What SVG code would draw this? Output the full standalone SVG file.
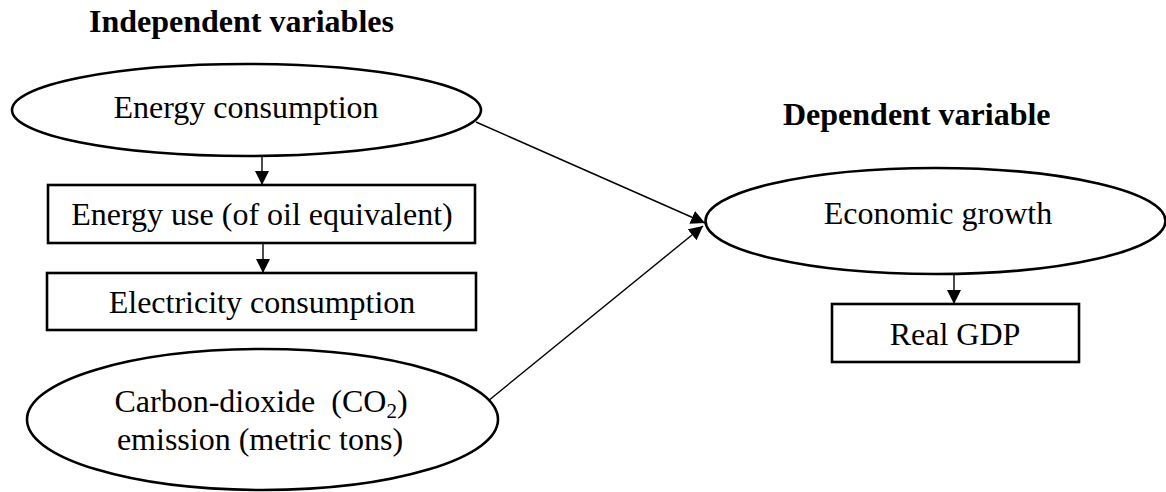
<svg xmlns="http://www.w3.org/2000/svg" width="1166" height="492" viewBox="0 0 1166 492">
<style>
.shape{fill:#fff;stroke:#000;stroke-width:2.6}
.t{font-family:"Liberation Serif","Times New Roman",serif;font-size:32px;fill:#000;text-anchor:middle}
.h{font-family:"Liberation Serif","Times New Roman",serif;font-size:32px;font-weight:bold;fill:#000}
.c{stroke:#000;stroke-width:1.4;fill:none;marker-end:url(#ah)}
</style>
<defs>
<marker id="ah" viewBox="0 0 10 10" refX="10" refY="5" markerWidth="14" markerHeight="14" markerUnits="userSpaceOnUse" orient="auto">
<path d="M0,0 L10,5 L0,10 Z" fill="#000"/>
</marker>
</defs>
<text class="h" x="89" y="32">Independent variables</text>
<text class="h" x="783" y="125">Dependent variable</text>
<g id="connectors">
<line class="c" x1="262" y1="156" x2="262" y2="185"/>
<line class="c" x1="263" y1="243" x2="263" y2="273"/>
<line class="c" x1="954" y1="274" x2="954" y2="304"/>
<line class="c" x1="476" y1="122" x2="705" y2="223"/>
<line class="c" x1="488" y1="401" x2="703" y2="226"/>
</g>
<g id="energy-consumption">
<ellipse class="shape" cx="246.5" cy="110" rx="234.5" ry="46"/>
<text class="t" x="246" y="118">Energy consumption</text>
</g>
<g id="energy-use">
<rect class="shape" x="48" y="185" width="427" height="58"/>
<text class="t" x="262" y="225">Energy use (of oil equivalent)</text>
</g>
<g id="electricity">
<rect class="shape" x="47" y="273" width="429" height="57"/>
<text class="t" x="262" y="313">Electricity consumption</text>
</g>
<g id="co2">
<ellipse class="shape" cx="262.5" cy="419.5" rx="235.5" ry="70.5"/>
<text class="t" x="261" y="412" xml:space="preserve">Carbon-dioxide  (CO<tspan font-size="21" dy="6">2</tspan><tspan dy="-6">)</tspan></text>
<text class="t" x="260" y="450">emission (metric tons)</text>
</g>
<g id="economic-growth">
<ellipse class="shape" cx="935.5" cy="221" rx="230" ry="53"/>
<text class="t" x="938" y="224">Economic growth</text>
</g>
<g id="real-gdp">
<rect class="shape" x="832" y="304" width="247" height="58"/>
<text class="t" x="955" y="345">Real GDP</text>
</g>
</svg>
